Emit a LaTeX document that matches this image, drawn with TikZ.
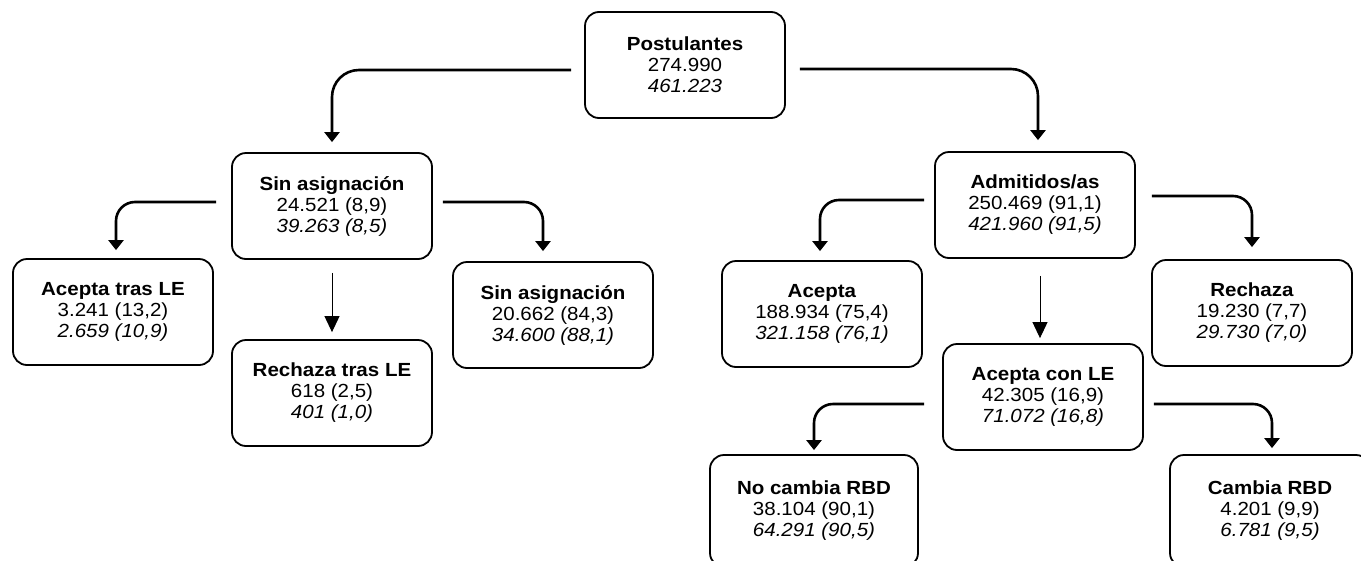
\documentclass[tikz,border=0pt]{standalone}
\usepackage{fontspec}
\setmainfont{Liberation Sans}[FakeStretch=1.08]
\usetikzlibrary{arrows.meta}
\tikzset{
    box/.style={
        draw=black,
        line width=1.8pt,
        rounded corners=14pt,
        fill=white,
        align=center,
        minimum width=200pt,
        minimum height=106pt,
        font=\fontsize{19}{21}\selectfont
    },
    main arrow/.style={
        line width=2.6pt,
        -{Triangle[width=15pt,length=10pt]}
    },
    thin arrow/.style={
        line width=1pt,
        -{Triangle[width=15pt,length=16pt]}
    }
}

\begin{document}
\begin{tikzpicture}[x=1pt, y=-1pt]
\useasboundingbox (0,0) rectangle (1361,560);

% boxes:
\node[box] (post) at (685,65) {\textbf{Postulantes}\\274.990\\\textit{461.223}};

\node[box] (sinA) at (332,206) {\textbf{Sin asignación}\\24.521 (8,9)\\\textit{39.263 (8,5)}};
\node[box] (admi) at (1035,205) {\textbf{Admitidos/as}\\250.469 (91,1)\\\textit{421.960 (91,5)}};

\node[box] (acTras) at (113,312) {\textbf{Acepta tras LE}\\3.241 (13,2)\\\textit{2.659 (10,9)}};
\node[box] (rechTras) at (332,393) {\textbf{Rechaza tras LE}\\618 (2,5)\\\textit{401 (1,0)}};
\node[box] (sinB) at (553,315) {\textbf{Sin asignación}\\20.662 (84,3)\\\textit{34.600 (88,1)}};

\node[box] (acep) at (822,314) {\textbf{Acepta}\\188.934 (75,4)\\\textit{321.158 (76,1)}};
\node[box] (acLE) at (1043,397) {\textbf{Acepta con LE}\\42.305 (16,9)\\\textit{71.072 (16,8)}};
\node[box] (rech) at (1252,313) {\textbf{Rechaza}\\19.230 (7,7)\\\textit{29.730 (7,0)}};

\node[box, minimum width=208pt, minimum height=112pt] (noCam) at (814,511) {\textbf{No cambia RBD}\\38.104 (90,1)\\\textit{64.291 (90,5)}};
\node[box, minimum height=112pt] (cam) at (1270,511) {\textbf{Cambia RBD}\\4.201 (9,9)\\\textit{6.781 (9,5)}};

% connectors:
\draw[main arrow, rounded corners=27pt, shorten <=13pt, shorten >=10pt] ([yshift=-5pt]post.west) -| (sinA.north);
\draw[main arrow, rounded corners=27pt, shorten <=14pt, shorten >=11pt] ([yshift=-4pt]post.east) -| ([xshift=3pt]admi.north);

\draw[main arrow, rounded corners=19pt, shorten <=15pt, shorten >=8pt] ([yshift=4pt]sinA.west) -| ([xshift=3pt]acTras.north);
\draw[main arrow, rounded corners=19pt, shorten <=10pt, shorten >=10pt] ([yshift=4pt]sinA.east) -| ([xshift=-10pt]sinB.north);
\draw[thin arrow, shorten <=13pt, shorten >=7pt] (sinA.south) -- (rechTras.north);

\draw[main arrow, rounded corners=19pt, shorten <=10pt, shorten >=9pt] ([yshift=5pt]admi.west) -| ([xshift=-2pt]acep.north);
\draw[main arrow, rounded corners=19pt, shorten <=16pt, shorten >=12pt] ([yshift=9pt]admi.east) -| (rech.north);
\draw[thin arrow, shorten <=17pt, shorten >=5pt] ([xshift=5pt]admi.south) -- ([xshift=-3pt]acLE.north);

\draw[main arrow, rounded corners=19pt, shorten <=18pt, shorten >=4pt] ([yshift=-7pt]acLE.west) -| (noCam.north);
\draw[main arrow, rounded corners=19pt, shorten <=10pt, shorten >=6pt] ([yshift=-7pt]acLE.east) -| ([xshift=2pt]cam.north);

\end{tikzpicture}
\end{document}
